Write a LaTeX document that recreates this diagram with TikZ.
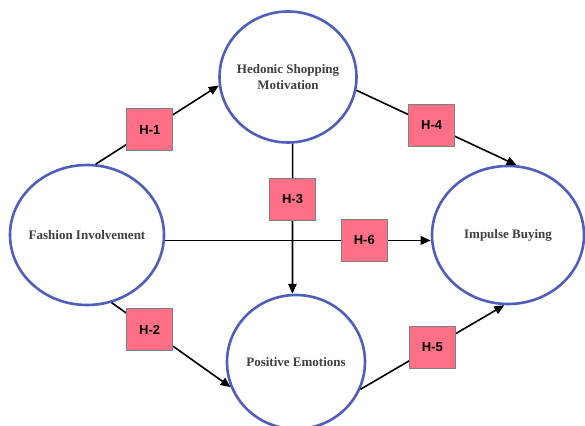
\documentclass[tikz,border=0pt]{standalone}
\usepackage{fontspec}
\setmainfont{Liberation Serif}
\setsansfont{Liberation Sans}
\usetikzlibrary{arrows.meta,shapes.geometric}
\definecolor{ringblue}{HTML}{4F5EBD}
\definecolor{hpink}{HTML}{FF6F86}

\begin{document}
\begin{tikzpicture}[x=1pt, y=1pt, >={Triangle[length=10pt, width=8.5pt]},
  construct/.style={ellipse, draw=ringblue, line width=2.6pt, fill=white, align=center,
    inner sep=0pt, inner xsep=-10pt, text=black!75,
    font=\fontsize{13}{15.8}\selectfont\bfseries},
  hyp/.style={rectangle, draw=black!50, line width=0.8pt, fill=hpink, minimum width=46pt,
    minimum height=42pt, font=\sffamily\bfseries\fontsize{13}{15}\selectfont},
  link/.style={->, line width=1.6pt}]
  \useasboundingbox (0,0) rectangle (585,425);
  % constructs
  \node[construct, minimum width=154pt, minimum height=140pt] (fash) at (87,190) {Fashion Involvement};
  \node[construct, minimum width=137pt, minimum height=131pt] (hedo) at (288,348) {Hedonic Shopping\\Motivation};
  \node[construct, minimum width=152pt, minimum height=138pt] (impu) at (508,190) {Impulse Buying};
  \node[construct, minimum width=138pt, minimum height=134pt] (posi) at (296,63) {Positive Emotions};
  % hypotheses
  \draw[link] (fash.83) -- node[hyp, pos=0.44] (h1) {H-1} (hedo.187);
  \draw[link] (fash.-70) -- node[hyp, pos=0.32] (h2) {H-2} (posi.201);
  \draw[link] (hedo.-86) -- node[hyp, pos=0.37] (h3) {H-3} (posi.93);
  \draw[link] (hedo.-11) -- node[hyp, pos=0.47] (h4) {H-4} (impu.83);
  \draw[link] (posi.-23) -- node[hyp, pos=0.5] (h5) {H-5} (impu.267);
  \draw[link] (fash.-4) -- node[hyp, pos=0.75] (h6) {H-6} (fash.-4 -| impu.west);
\end{tikzpicture}
\end{document}
